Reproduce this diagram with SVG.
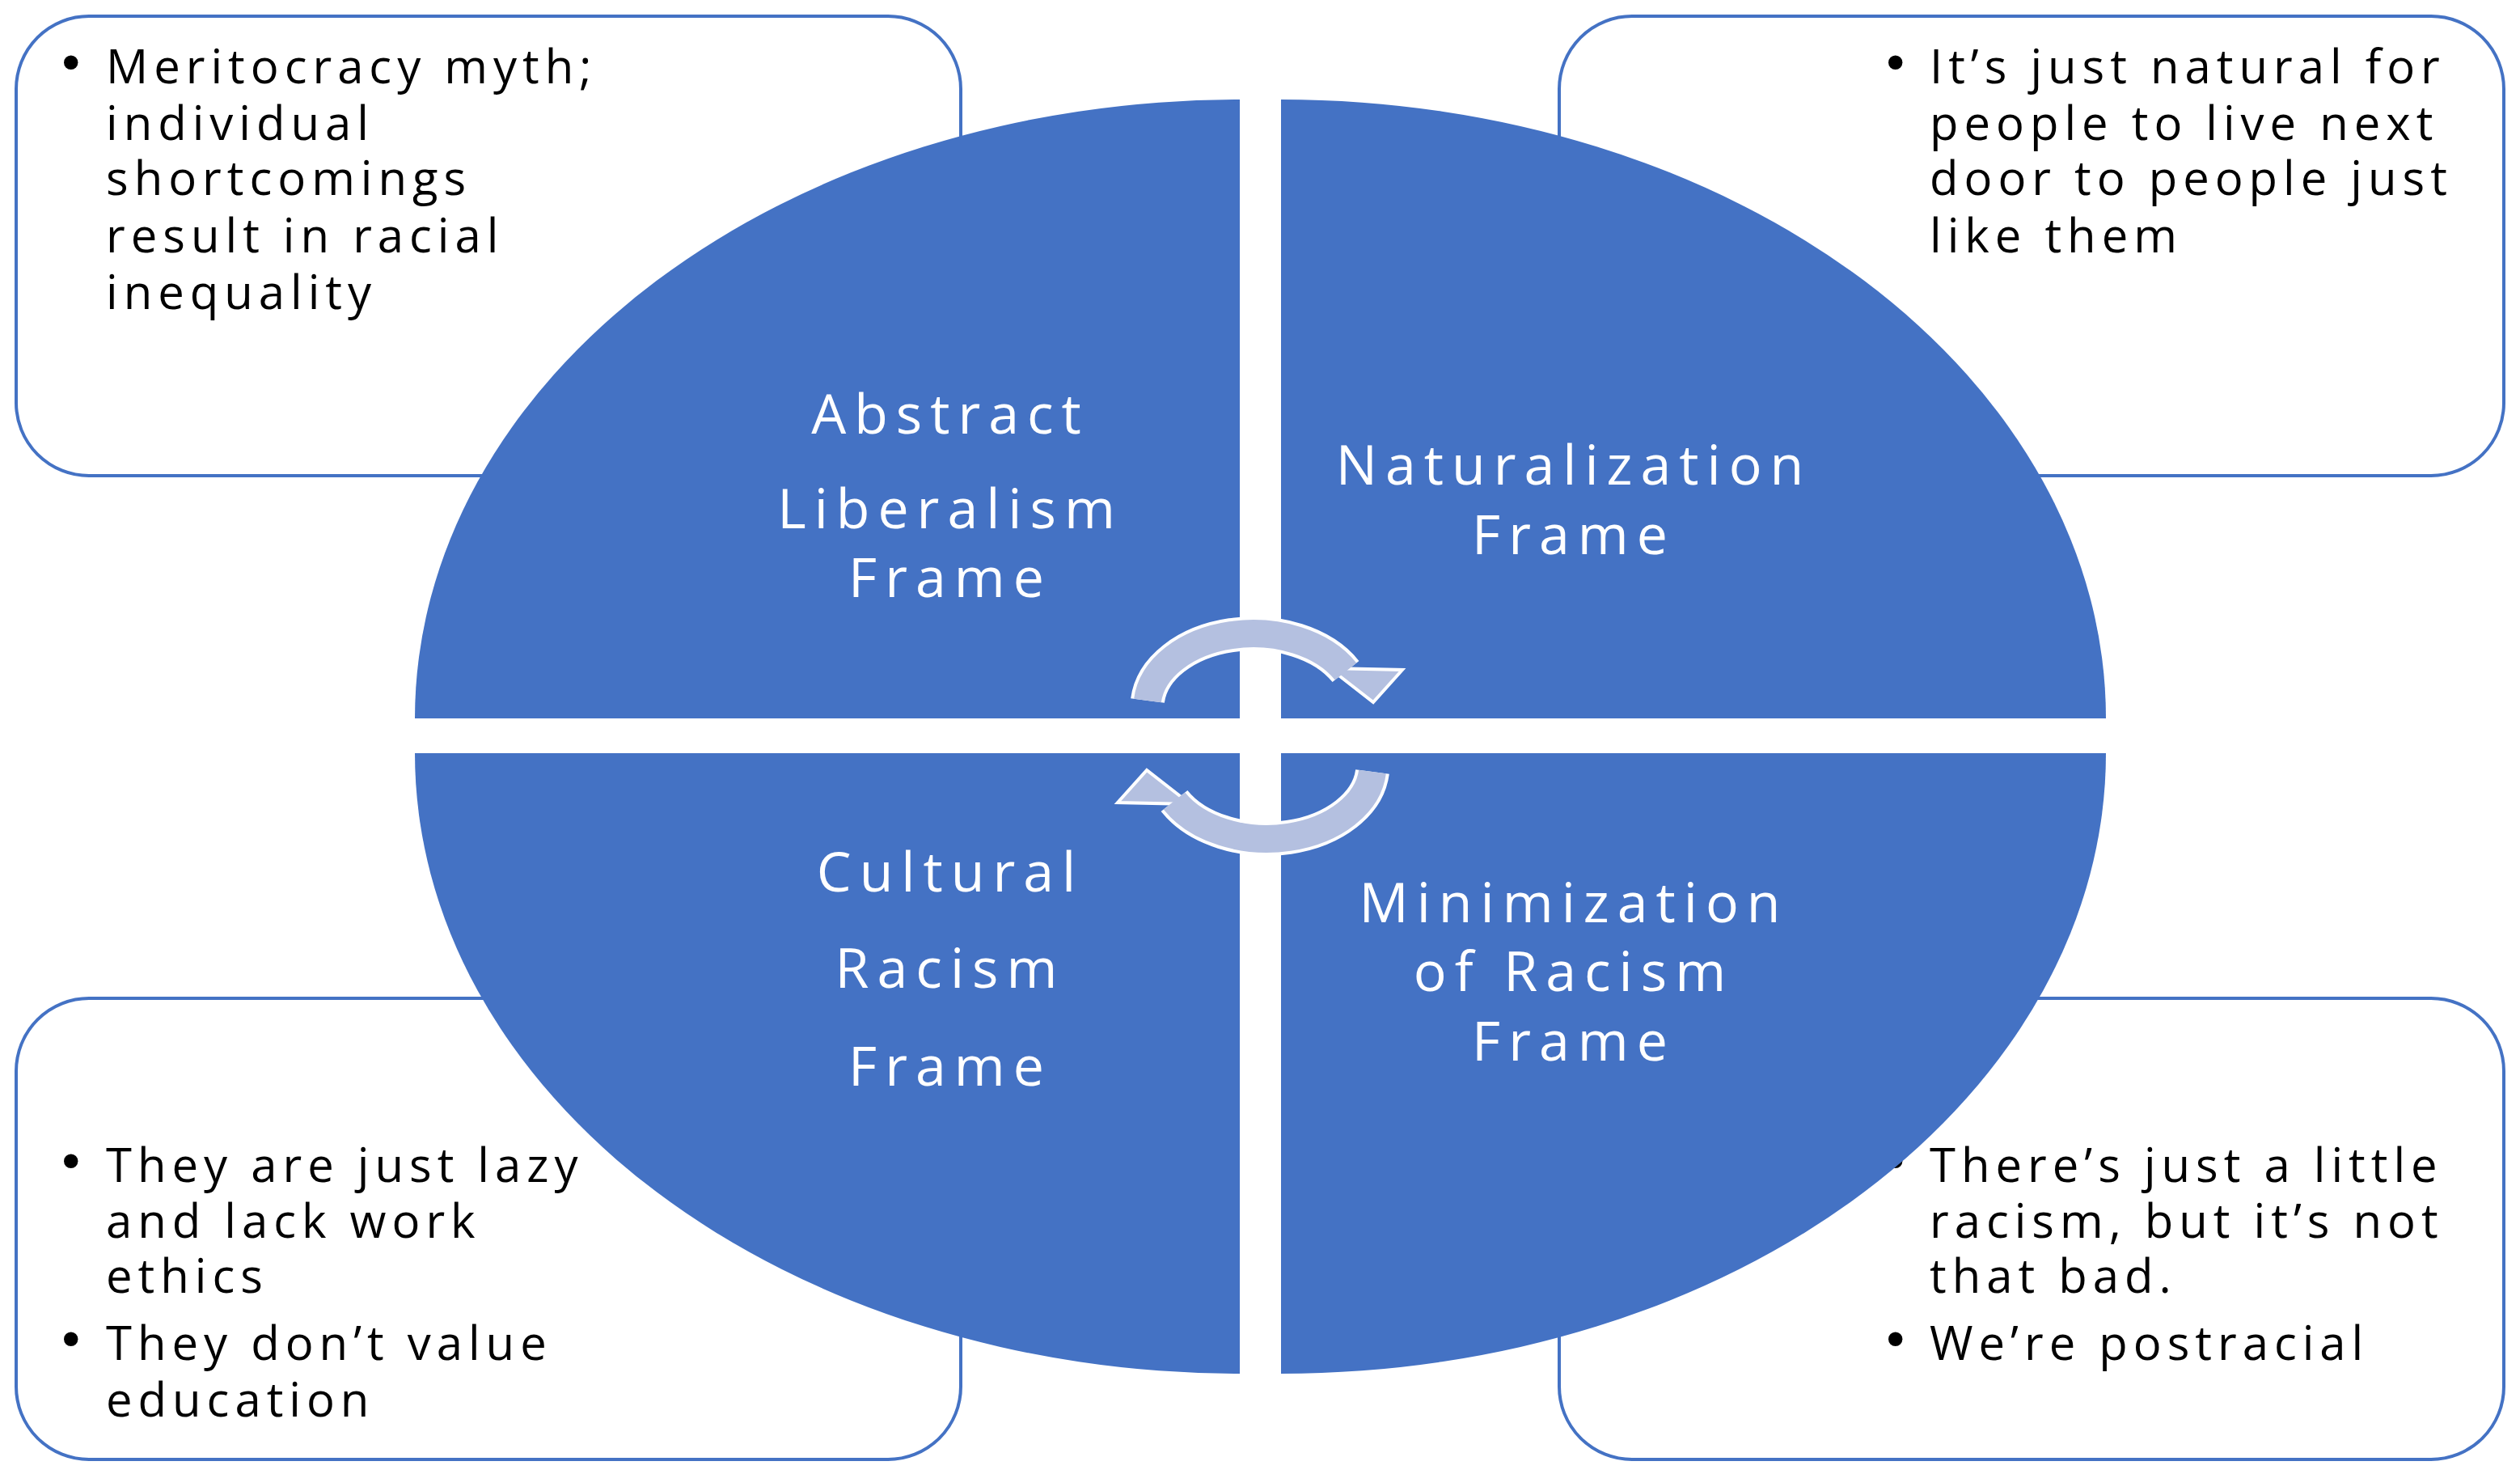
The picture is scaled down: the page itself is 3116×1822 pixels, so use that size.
<svg xmlns="http://www.w3.org/2000/svg" width="3116" height="1822" viewBox="0 0 3116 1822">
<style>
.box{fill:#fff;stroke:#4472C4;stroke-width:4}
.q{fill:#4472C4}
.t{font-family:"Open Sans",sans-serif;font-size:58px;fill:#000;letter-spacing:7px}
.b{font-family:"DejaVu Sans",sans-serif;font-size:60px;fill:#000}
.l{font-family:"Open Sans",sans-serif;font-size:68px;fill:#fff;text-anchor:middle;letter-spacing:10px}
</style>
<rect width="3116" height="1822" fill="#fff"/>
<g id="box-tl"><rect class="box" x="20" y="20" width="1168" height="568" rx="90"/>
<text class="b" x="70" y="100">•</text>
<text class="t"><tspan x="131" y="103">Meritocracy myth;</tspan><tspan x="131" y="173">individual</tspan><tspan x="131" y="241">shortcomings</tspan><tspan x="131" y="312">result in racial</tspan><tspan x="131" y="382">inequality</tspan></text></g>
<g id="box-tr"><rect class="box" x="1928" y="20" width="1168" height="568" rx="90"/>
<text class="b" x="2326" y="100">•</text>
<text class="t"><tspan x="2386" y="103">It’s just natural for</tspan><tspan x="2386" y="173">people to live next</tspan><tspan x="2386" y="241">door to people just</tspan><tspan x="2386" y="312">like them</tspan></text></g>
<g id="box-bl"><rect class="box" x="20" y="1234" width="1168" height="570" rx="90"/>
<text class="b" x="70" y="1458">•</text><text class="b" x="70" y="1678">•</text>
<text class="t"><tspan x="131" y="1461">They are just lazy</tspan><tspan x="131" y="1530">and lack work</tspan><tspan x="131" y="1598">ethics</tspan><tspan x="131" y="1681">They don’t value</tspan><tspan x="131" y="1751">education</tspan></text></g>
<g id="box-br"><rect class="box" x="1928" y="1234" width="1168" height="570" rx="90"/>
<text class="b" x="2326" y="1458">•</text><text class="b" x="2326" y="1678">•</text>
<text class="t"><tspan x="2386" y="1461">There’s just a little</tspan><tspan x="2386" y="1530">racism, but it’s not</tspan><tspan x="2386" y="1598">that bad.</tspan><tspan x="2386" y="1681">We’re postracial</tspan></text></g>
<g id="q-abstract"><path class="q" d="M1533,888 L513,888 A1020,765 0 0 1 1533,123 Z"/>
<text class="l"><tspan x="1175" y="536">Abstract</tspan><tspan x="1175" y="653">Liberalism</tspan><tspan x="1175" y="738">Frame</tspan></text></g>
<g id="q-natural"><path class="q" d="M1584,888 L1584,123 A1020,765 0 0 1 2604,888 Z"/>
<text class="l"><tspan x="1946" y="599">Naturalization</tspan><tspan x="1946" y="685">Frame</tspan></text></g>
<g id="q-cultural"><path class="q" d="M1533,931 L1533,1698 A1020,767 0 0 1 513,931 Z"/>
<text class="l"><tspan x="1175" y="1102">Cultural</tspan><tspan x="1175" y="1221">Racism</tspan><tspan x="1175" y="1342">Frame</tspan></text></g>
<g id="q-minim"><path class="q" d="M1584,931 L2604,931 A1020,767 0 0 1 1584,1698 Z"/>
<text class="l"><tspan x="1946" y="1140">Minimization</tspan><tspan x="1946" y="1225">of Racism</tspan><tspan x="1946" y="1311">Frame</tspan></text></g>
<g id="connectors">
<g id="arrow-top">
<path d="M1419,866 A131,91 0 0 1 1664,830" fill="none" stroke="#fff" stroke-width="42"/>
<path d="M1644,826 L1734,828 L1698,868 Z" fill="#B4C0E0" stroke="#fff" stroke-width="4"/>
<path d="M1419,866 A131,91 0 0 1 1664,830" fill="none" stroke="#B4C0E0" stroke-width="34"/>
</g>
<g id="arrow-bottom" transform="rotate(180 1558 910)">
<path d="M1419,866 A131,91 0 0 1 1664,830" fill="none" stroke="#fff" stroke-width="42"/>
<path d="M1644,826 L1734,828 L1698,868 Z" fill="#B4C0E0" stroke="#fff" stroke-width="4"/>
<path d="M1419,866 A131,91 0 0 1 1664,830" fill="none" stroke="#B4C0E0" stroke-width="34"/>
</g>
</g>
</svg>
